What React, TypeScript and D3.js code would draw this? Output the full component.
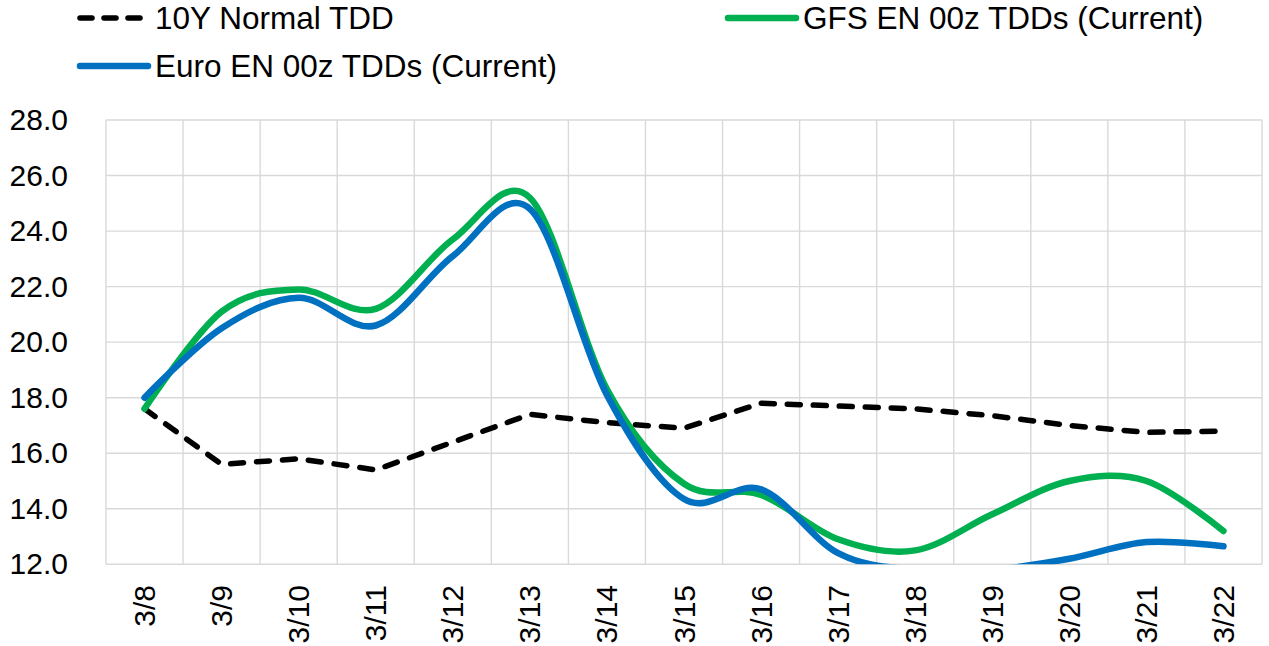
import React, { useEffect, useRef } from 'react'
import * as d3 from 'd3'

const categories = ['3/8', '3/9', '3/10', '3/11', '3/12', '3/13', '3/14', '3/15', '3/16', '3/17', '3/18', '3/19', '3/20', '3/21', '3/22']
const normalTdd = [17.6, 15.6, 15.8, 15.4, 16.4, 17.4, 17.1, 16.9, 17.8, 17.7, 17.6, 17.35, 17.0, 16.75, 16.8]
const gfsTdd = [17.6, 21.1, 21.9, 21.2, 23.7, 25.2, 18.3, 14.9, 14.5, 12.9, 12.5, 13.8, 15.0, 15.0, 13.2]
const euroTdd = [18.0, 20.5, 21.6, 20.6, 23.1, 24.8, 18.1, 14.35, 14.7, 12.4, 11.8, 11.8, 12.2, 12.8, 12.65]
const yTicks = [12, 14, 16, 18, 20, 22, 24, 26, 28]

const FONT = '"Liberation Sans", Arial, sans-serif'

const App = () => {
  const refSvg = useRef(null)

  useEffect(() => {
    const width = 1269
    const height = 646
    const left = 106
    const right = 1262
    const top = 120
    const bottom = 564.3

    const svg = d3.select(refSvg.current).attr('width', width).attr('height', height)
    svg.selectAll('*').remove()

    const x = d3.scaleBand().domain(categories).range([left, right]).padding(0)
    const cx = (c) => x(c) + x.bandwidth() / 2
    const y = d3.scaleLinear().domain([12, 28]).range([bottom, top])

    // grid
    const grid = svg.append('g').attr('stroke', '#d9d9d9').attr('stroke-width', 1.4)
    grid
      .selectAll('line.h')
      .data(yTicks)
      .enter()
      .append('line')
      .attr('x1', left)
      .attr('x2', right)
      .attr('y1', (d) => y(d))
      .attr('y2', (d) => y(d))
    const bounds = categories.map((c) => x(c)).concat([right])
    grid
      .selectAll('line.v')
      .data(bounds)
      .enter()
      .append('line')
      .attr('x1', (d) => d)
      .attr('x2', (d) => d)
      .attr('y1', top)
      .attr('y2', bottom)

    // y axis labels
    const yAxis = d3
      .axisLeft(y)
      .tickValues(yTicks)
      .tickSize(0)
      .tickPadding(38)
      .tickFormat(d3.format('.1f'))
    const yg = svg.append('g').attr('transform', `translate(${left},0)`).call(yAxis)
    yg.select('.domain').remove()
    yg.selectAll('text').attr('font-size', 30).attr('font-family', FONT).attr('fill', '#000')

    // x labels
    svg
      .append('g')
      .selectAll('text')
      .data(categories)
      .enter()
      .append('text')
      .attr('transform', (d) => `translate(${cx(d)},585) rotate(-90)`)
      .attr('dy', '0.35em')
      .attr('text-anchor', 'end')
      .attr('font-size', 30)
      .attr('font-family', FONT)
      .attr('fill', '#000')
      .text((d) => d)

    // series
    svg
      .append('clipPath')
      .attr('id', 'plotClip')
      .append('rect')
      .attr('x', left)
      .attr('y', top - 10)
      .attr('width', right - left)
      .attr('height', bottom - top + 10)

    const smooth = d3
      .line<number>()
      .x((d, i) => cx(categories[i]))
      .y((d) => y(d))
      .curve(d3.curveCardinal.tension(0))
    const straight = d3
      .line<number>()
      .x((d, i) => cx(categories[i]))
      .y((d) => y(d))

    const body = svg.append('g').attr('clip-path', 'url(#plotClip)')
    body
      .append('path')
      .datum(normalTdd)
      .attr('d', straight)
      .attr('fill', 'none')
      .attr('stroke', '#000')
      .attr('stroke-width', 5.5)
      .attr('stroke-dasharray', '13 13')
      .attr('stroke-linecap', 'round')
      .attr('stroke-linejoin', 'round')
    body
      .append('path')
      .datum(gfsTdd)
      .attr('d', smooth)
      .attr('fill', 'none')
      .attr('stroke', '#00b050')
      .attr('stroke-width', 6.5)
      .attr('stroke-linecap', 'round')
    body
      .append('path')
      .datum(euroTdd)
      .attr('d', smooth)
      .attr('fill', 'none')
      .attr('stroke', '#0070c0')
      .attr('stroke-width', 6.5)
      .attr('stroke-linecap', 'round')

    // legend
    const legend = [
      { name: '10Y Normal TDD', color: '#000', dash: true, lx: 80, ly: 18, len: 60 },
      { name: 'GFS EN 00z TDDs (Current)', color: '#00b050', dash: false, lx: 728, ly: 18, len: 68 },
      { name: 'Euro EN 00z TDDs (Current)', color: '#0070c0', dash: false, lx: 80, ly: 66, len: 68 },
    ]
    const lg = svg.append('g').selectAll('g').data(legend).enter().append('g')
    lg.append('line')
      .attr('x1', (d) => d.lx)
      .attr('x2', (d) => d.lx + d.len)
      .attr('y1', (d) => d.ly)
      .attr('y2', (d) => d.ly)
      .attr('stroke', (d) => d.color)
      .attr('stroke-width', (d) => (d.dash ? 5.5 : 6.5))
      .attr('stroke-linecap', 'round')
      .attr('stroke-dasharray', (d) => (d.dash ? '12 12' : null))
    lg.append('text')
      .attr('x', (d) => (d.dash ? 155 : d.lx + d.len + 7))
      .attr('y', (d) => d.ly)
      .attr('dy', '0.36em')
      .attr('font-size', 31.5)
      .attr('font-family', FONT)
      .attr('fill', '#000')
      .text((d) => d.name)
  }, [])

  return (
    <div style={{ position: 'absolute', left: 0, top: 0, background: '#fff' }}>
      <svg ref={refSvg} style={{ display: 'block' }}></svg>
    </div>
  )
}

export default App
